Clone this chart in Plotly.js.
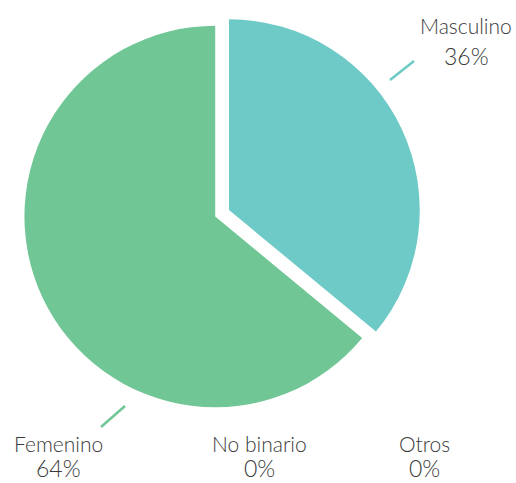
<!DOCTYPE html>
<html>
<head>
<meta charset="utf-8">
<script src="https://cdn.plot.ly/plotly-3.0.1.min.js"></script>
<style>
  html, body { margin: 0; padding: 0; background: #fff; }
  #chart { width: 516px; height: 483px; }
</style>
</head>
<body>
<div id="chart"></div>
<script>
// ---- data ----
const categories = ['Masculino', 'Femenino', 'No binario', 'Otros'];
const shares = [36, 64, 0, 0];

// ---- styling / layout (pixel positions of label centres) ----
const colors = ['#6DCAC6', '#71C695', '#BBBBBB', '#DDDDDD'];
const pulls = [0, 0.08, 0, 0];
const labelPos = [
  { x: 466, yName: 25, yPct: 56 },
  { x: 58,  yName: 443, yPct: 468 },
  { x: 259, yName: 443, yPct: 468 },
  { x: 424, yName: 443, yPct: 468 }
];
const W = 516, H = 483;
const fontFam = 'Lato, "Open Sans", sans-serif';

const annotations = [];
categories.forEach((c, i) => {
  const p = labelPos[i];
  annotations.push({
    xref: 'paper', yref: 'paper', x: p.x / W, y: 1 - p.yName / H,
    xanchor: 'center', yanchor: 'middle', showarrow: false,
    text: c, font: { family: fontFam, size: 21, weight: 300, color: '#3a3a3a' }
  });
  annotations.push({
    xref: 'paper', yref: 'paper', x: p.x / W, y: 1 - p.yPct / H,
    xanchor: 'center', yanchor: 'middle', showarrow: false,
    text: shares[i] + '%', font: { family: fontFam, size: 23, weight: 300, color: '#3a3a3a' }
  });
});

const leader = (x0, y0, x1, y1, col) => ({
  type: 'line', xref: 'paper', yref: 'paper',
  x0: x0 / W, y0: 1 - y0 / H, x1: x1 / W, y1: 1 - y1 / H,
  line: { color: col, width: 2.5 }
});

const trace = {
  type: 'pie',
  labels: categories,
  values: shares,
  sort: false,
  direction: 'clockwise',
  rotation: 0,
  pull: pulls,
  marker: { colors: colors, line: { width: 0 } },
  textinfo: 'none',
  hoverinfo: 'label+percent',
  showlegend: false,
  domain: { x: [23 / W, 435 / W], y: [1 - 416 / H, 1 - 4 / H] }
};

const layout = {
  width: W, height: H,
  margin: { l: 0, r: 0, t: 0, b: 0 },
  paper_bgcolor: '#ffffff',
  showlegend: false,
  annotations: annotations,
  shapes: [
    leader(390, 80, 414, 61, colors[0]),
    leader(101, 427, 125, 406, colors[1])
  ]
};

Plotly.newPlot('chart', [trace], layout, { displayModeBar: false, staticPlot: true });
</script>
</body>
</html>
